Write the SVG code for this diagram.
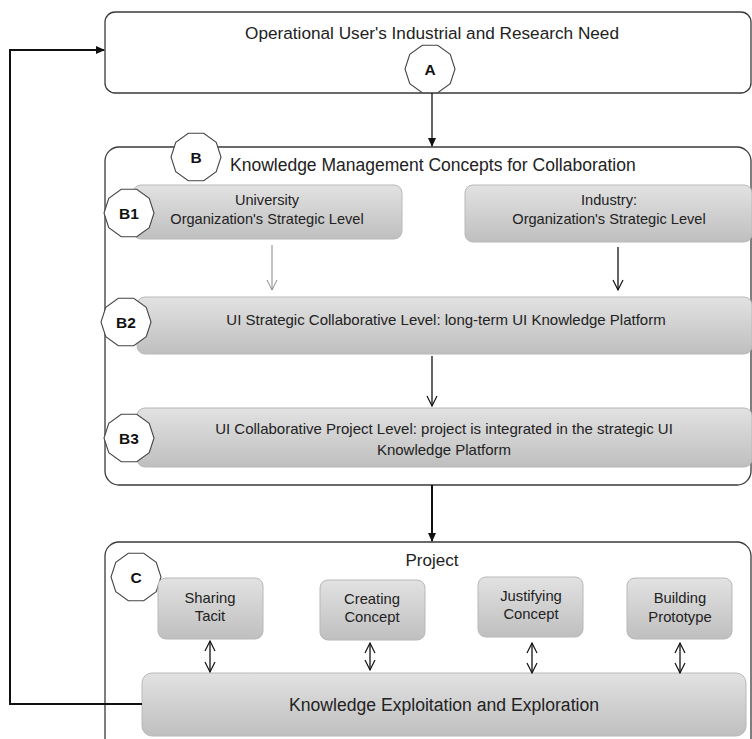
<svg xmlns="http://www.w3.org/2000/svg" width="752" height="739" viewBox="0 0 752 739">
<defs>
<style>
.frame{fill:#fff;stroke:#3a3a3a;stroke-width:1.3}
.gbox{fill:url(#g);stroke:#b8b8b8;stroke-width:1}
.oct{fill:#fff;stroke:#444;stroke-width:1.1}
.t{font-family:"Liberation Sans",Arial,sans-serif;fill:#222;text-anchor:middle}
.lab{font-family:"Liberation Sans",Arial,sans-serif;font-weight:bold;font-size:15.5px;fill:#111;text-anchor:middle}
.c{fill:none;stroke:#111;stroke-width:1.3}
.cb{fill:none;stroke:#111;stroke-width:2}
.cg{fill:none;stroke:#888;stroke-width:1}
</style>
<linearGradient id="g" x1="0" y1="0" x2="0" y2="1">
<stop offset="0" stop-color="#e2e2e2"/>
<stop offset="1" stop-color="#bfbfbf"/>
</linearGradient>
<path id="dec" d="M25,0 L20.23,14.69 L7.73,23.78 L-7.73,23.78 L-20.23,14.69 L-25,0 L-20.23,-14.69 L-7.73,-23.78 L7.73,-23.78 L20.23,-14.69 Z"/>
<marker id="fill" markerWidth="10" markerHeight="10" refX="8" refY="5" orient="auto" markerUnits="userSpaceOnUse">
<path d="M0,1 L9,5 L0,9 Z" fill="#111"/>
</marker>
<marker id="open" markerWidth="14" markerHeight="14" refX="11" refY="6" orient="auto" markerUnits="userSpaceOnUse">
<path d="M1,1 L11,6 L1,11" fill="none" stroke="#111" stroke-width="1.2"/>
</marker>
<marker id="openg" markerWidth="14" markerHeight="14" refX="11" refY="6" orient="auto" markerUnits="userSpaceOnUse">
<path d="M1,1 L11,6 L1,11" fill="none" stroke="#888" stroke-width="1"/>
</marker>
<marker id="openS" markerWidth="14" markerHeight="14" refX="11" refY="6" orient="auto-start-reverse" markerUnits="userSpaceOnUse">
<path d="M1,1 L11,6 L1,11" fill="none" stroke="#111" stroke-width="1.2"/>
</marker>
</defs>

<g id="nodeA">
<rect class="frame" x="105" y="12" width="646" height="81" rx="10"/>
<text class="t" x="432" y="39" font-size="17.2">Operational User's Industrial and Research Need</text>
<use href="#dec" class="oct" x="430" y="69"/>
<text class="lab" x="430" y="75">A</text>
</g>

<g id="nodeB">
<rect class="frame" x="105" y="147" width="646" height="338" rx="14"/>
<use href="#dec" class="oct" x="196" y="157"/>
<text class="lab" x="196" y="163">B</text>
<text x="230" y="171" font-family="Liberation Sans, Arial, sans-serif" font-size="17.5" fill="#222">Knowledge Management Concepts for Collaboration</text>
</g>

<g id="nodeB1">
<rect class="gbox" x="133" y="185" width="269" height="54" rx="8"/>
<text class="t" x="267" y="205" font-size="14.6">University</text>
<text class="t" x="267" y="224" font-size="14.6">Organization's Strategic Level</text>
<use href="#dec" class="oct" x="129" y="213"/>
<text class="lab" x="129" y="219">B1</text>
</g>

<g id="nodeIndustry">
<rect class="gbox" x="465" y="185" width="287" height="57" rx="8"/>
<text class="t" x="609" y="205" font-size="14.6">Industry:</text>
<text class="t" x="609" y="224" font-size="14.6">Organization's Strategic Level</text>
</g>

<g id="nodeB2">
<rect class="gbox" x="137" y="297" width="615" height="57" rx="8"/>
<text class="t" x="446" y="325" font-size="15">UI Strategic Collaborative Level: long-term UI Knowledge Platform</text>
<use href="#dec" class="oct" x="126" y="322"/>
<text class="lab" x="126" y="328">B2</text>
</g>

<g id="nodeB3">
<rect class="gbox" x="137" y="408" width="615" height="59" rx="8"/>
<text class="t" x="444" y="434" font-size="15">UI Collaborative Project Level: project is integrated in the strategic UI</text>
<text class="t" x="444" y="455" font-size="15">Knowledge Platform</text>
<use href="#dec" class="oct" x="129" y="438"/>
<text class="lab" x="129" y="444">B3</text>
</g>

<g id="nodeC">
<rect class="frame" x="105" y="542" width="646" height="210" rx="14"/>
<text class="t" x="432" y="566" font-size="17">Project</text>
<use href="#dec" class="oct" x="136" y="577"/>
<text class="lab" x="136" y="583">C</text>
</g>

<g id="nodeSharing">
<rect class="gbox" x="158" y="578" width="105" height="61" rx="8"/>
<text class="t" x="210" y="603" font-size="14.8">Sharing</text>
<text class="t" x="210" y="621" font-size="14.8">Tacit</text>
</g>
<g id="nodeCreating">
<rect class="gbox" x="320" y="580" width="105" height="60" rx="8"/>
<text class="t" x="372" y="604" font-size="14.8">Creating</text>
<text class="t" x="372" y="622" font-size="14.8">Concept</text>
</g>
<g id="nodeJustifying">
<rect class="gbox" x="478" y="577" width="105" height="60" rx="8"/>
<text class="t" x="531" y="601" font-size="14.8">Justifying</text>
<text class="t" x="531" y="619" font-size="14.8">Concept</text>
</g>
<g id="nodeBuilding">
<rect class="gbox" x="627" y="578" width="105" height="61" rx="8"/>
<text class="t" x="680" y="603" font-size="14.8">Building</text>
<text class="t" x="680" y="622" font-size="14.8">Prototype</text>
</g>

<g id="nodeKE">
<rect class="gbox" x="142" y="673" width="604" height="63" rx="10"/>
<text class="t" x="444" y="711" font-size="17.6">Knowledge Exploitation and Exploration</text>
</g>

<g id="connectors">
<line class="c" x1="432" y1="93" x2="432" y2="146" marker-end="url(#fill)"/>
<line class="cb" x1="432" y1="485" x2="432" y2="541" marker-end="url(#fill)"/>
<polyline class="cb" points="142,704 10,704 10,50 104,50" marker-end="url(#fill)"/>
<line class="cg" x1="272" y1="245" x2="272" y2="290" marker-end="url(#openg)"/>
<line class="c" x1="618" y1="247" x2="618" y2="290" marker-end="url(#open)"/>
<line class="c" x1="432" y1="356" x2="432" y2="406" marker-end="url(#open)"/>
<line class="c" x1="210" y1="641" x2="210" y2="672" marker-start="url(#openS)" marker-end="url(#openS)"/>
<line class="c" x1="370" y1="643" x2="370" y2="670" marker-start="url(#openS)" marker-end="url(#openS)"/>
<line class="c" x1="532" y1="643" x2="532" y2="673" marker-start="url(#openS)" marker-end="url(#openS)"/>
<line class="c" x1="680" y1="643" x2="680" y2="673" marker-start="url(#openS)" marker-end="url(#openS)"/>
</g>
</svg>
